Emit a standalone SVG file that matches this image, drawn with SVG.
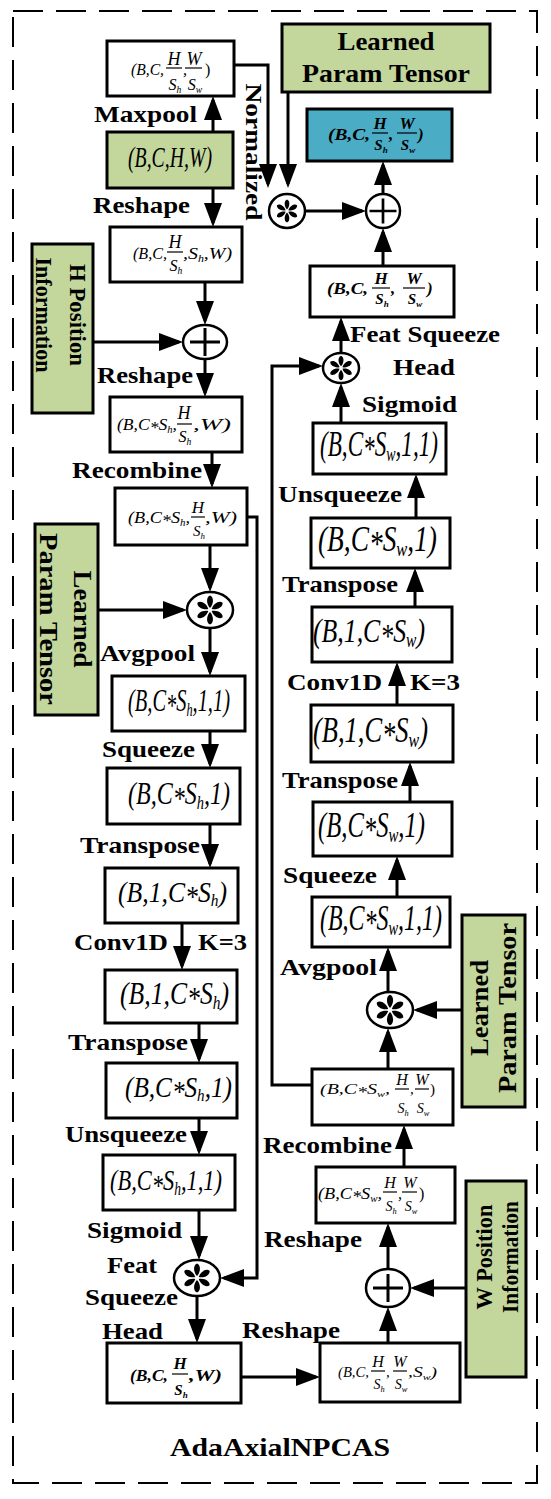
<svg xmlns="http://www.w3.org/2000/svg" width="551" height="1499" viewBox="0 0 551 1499">
<style>
.bx{fill:#fff;stroke:#000;stroke-width:3}
.gr{fill:#C3D69B;stroke:#000;stroke-width:3}
.bl{fill:#4BACC6;stroke:#000;stroke-width:3}
.op{fill:#fff;stroke:#000;stroke-width:2.5}
.c{fill:none;stroke:#000;stroke-width:3}
.fl{stroke:#000;stroke-width:1.2}
.t{font-family:"Liberation Serif","Times New Roman",serif;fill:#000}
.l{font-weight:bold;font-size:23px}
.g{font-weight:bold;font-size:26px}
.i{font-style:italic}
.bi{font-style:italic;font-weight:bold}
.sb{font-size:60%}
</style>
<defs>
<marker id="ah" viewBox="0 0 24 18" refX="20" refY="9" markerWidth="24" markerHeight="18" markerUnits="userSpaceOnUse" orient="auto"><path d="M0,0 L24,9 L0,18 Z" fill="#000"/></marker>
<g id="st"><path id="pt" d="M0,-2 C-3.8,-6 -4,-13 0,-14.5 C4,-13 3.8,-6 0,-2 Z" fill="#000"/><use href="#pt" transform="rotate(60)"/><use href="#pt" transform="rotate(120)"/><use href="#pt" transform="rotate(180)"/><use href="#pt" transform="rotate(240)"/><use href="#pt" transform="rotate(300)"/></g>
<path id="pl" d="M-15,0 H15 M0,-14 V14" stroke="#000" stroke-width="3" fill="none"/>
</defs>
<rect width="551" height="1499" fill="#fff"/>
<rect x="13" y="11" width="524" height="1472" fill="none" stroke="#000" stroke-width="2" stroke-dasharray="30 13"/>

<g id="connectors" class="c" marker-end="url(#ah)">
<path d="M213,132 V100"/>
<path d="M213,188 V223"/>
<path d="M234,65 H268 V184"/>
<path d="M288,92 V184"/>
<path d="M305,211 H362"/>
<path d="M383,266 V232"/>
<path d="M383,194 V165"/>
<path d="M205,282 V321"/>
<path d="M93,342 H179"/>
<path d="M205,359 V393"/>
<path d="M212,452 V484"/>
<path d="M247,517 H257 V1278 H224"/>
<path d="M210,545 V588"/>
<path d="M98,610 H183"/>
<path d="M210,628 V672"/>
<path d="M210,731 V764"/>
<path d="M210,824 V864"/>
<path d="M182,923 V966"/>
<path d="M199,1023 V1059"/>
<path d="M199,1118 V1151"/>
<path d="M199,1210 V1256"/>
<path d="M197,1296 V1339"/>
<path d="M241,1377 H316"/>
<path d="M388,1343 V1311"/>
<path d="M466,1288 H414"/>
<path d="M388,1269 V1227"/>
<path d="M404,1167 V1129"/>
<path d="M312,1085 H272 V366 H319"/>
<path d="M388,1069 V1032"/>
<path d="M462,1010 H417"/>
<path d="M388,992 V951"/>
<path d="M397,897 V860"/>
<path d="M410,802 V766"/>
<path d="M397,705 V666"/>
<path d="M415,607 V572"/>
<path d="M416,518 V478"/>
<path d="M341,423 V387"/>
<path d="M341,353 V321"/>
</g>

<g id="op-star-top"><ellipse class="op" cx="287" cy="211" rx="18" ry="17"/><use href="#st" transform="translate(287,211) scale(0.8)"/></g>
<g id="op-plus-top"><ellipse class="op" cx="383" cy="211" rx="17" ry="17"/><use href="#pl" transform="translate(383,211) scale(0.9)"/></g>
<g id="op-plus-h"><ellipse class="op" cx="205" cy="342" rx="22" ry="17"/><use href="#pl" transform="translate(205,342)"/></g>
<g id="op-star-h"><ellipse class="op" cx="210" cy="610" rx="23" ry="18"/><use href="#st" transform="translate(210,610)"/></g>
<g id="op-star-hb"><ellipse class="op" cx="197" cy="1278" rx="23" ry="18"/><use href="#st" transform="translate(197,1278)"/></g>
<g id="op-plus-w"><ellipse class="op" cx="388" cy="1288" rx="22" ry="19"/><use href="#pl" transform="translate(388,1288)"/></g>
<g id="op-star-w"><ellipse class="op" cx="390" cy="1010" rx="23" ry="18"/><use href="#st" transform="translate(390,1010) scale(1.05)"/></g>
<g id="op-star-wt"><ellipse class="op" cx="341" cy="368" rx="18" ry="15"/><use href="#st" transform="translate(341,368) scale(0.85)"/></g>

<g id="n1"><rect class="bx" x="107" y="41" width="127" height="55"/>
<text class="t i" font-size="16" x="131" y="75" textLength="33" lengthAdjust="spacingAndGlyphs">(B,C,</text>
<text class="t i" font-size="18" x="174" y="65" text-anchor="middle">H</text>
<line class="fl" x1="166" y1="68" x2="182" y2="68"/>
<text class="t i" font-size="16" x="175" y="90" text-anchor="middle">S<tspan class="sb" dy="3">h</tspan></text>
<text class="t i" font-size="16" x="183" y="75">,</text>
<text class="t i" font-size="18" x="194" y="65" text-anchor="middle">W</text>
<line class="fl" x1="185" y1="68" x2="202" y2="68"/>
<text class="t i" font-size="16" x="195" y="90" text-anchor="middle">S<tspan class="sb" dy="3">w</tspan></text>
<text class="t" font-size="16" x="205" y="75">)</text></g>

<g id="n2"><rect class="gr" x="107" y="132" width="126" height="56"/>
<text class="t i" font-size="20" textLength="84" lengthAdjust="spacingAndGlyphs" transform="translate(128,167) scale(1,1.5)">(B,C,H,W)</text></g>

<g id="n3"><rect class="bx" x="110" y="227" width="132" height="55"/>
<text class="t i" font-size="16" x="133" y="259" textLength="34" lengthAdjust="spacingAndGlyphs">(B,C,</text>
<text class="t i" font-size="18" x="175" y="248" text-anchor="middle">H</text>
<line class="fl" x1="167" y1="252" x2="183" y2="252"/>
<text class="t i" font-size="16" x="176" y="271" text-anchor="middle">S<tspan class="sb" dy="3">h</tspan></text>
<text class="t i" font-size="16" x="183" y="259" textLength="49" lengthAdjust="spacingAndGlyphs">,S<tspan class="sb" dy="3">h</tspan><tspan dy="-3">,W)</tspan></text></g>

<g id="n4"><rect class="gr" x="32" y="244" width="61" height="169"/>
<g transform="translate(62,315) rotate(90)"><text class="t l" font-size="24" x="0" y="-8" text-anchor="middle" textLength="102" lengthAdjust="spacingAndGlyphs">H Position</text><text class="t l" font-size="24" x="0" y="26" text-anchor="middle" textLength="115" lengthAdjust="spacingAndGlyphs">Information</text></g></g>

<g id="n6"><rect class="bx" x="110" y="397" width="132" height="55"/>
<text class="t i" font-size="17" x="117" y="430" textLength="60" lengthAdjust="spacingAndGlyphs">(B,C<tspan dy="3">*</tspan><tspan dy="-3">S</tspan><tspan class="sb" dy="3">h</tspan><tspan dy="-3">,</tspan></text>
<text class="t i" font-size="18" x="184" y="419" text-anchor="middle">H</text>
<line class="fl" x1="177" y1="424" x2="192" y2="424"/>
<text class="t i" font-size="16" x="185" y="442" text-anchor="middle">S<tspan class="sb" dy="3">h</tspan></text>
<text class="t i" font-size="17" x="193" y="430" textLength="38" lengthAdjust="spacingAndGlyphs">,W)</text></g>

<g id="n7"><rect class="bx" x="115" y="488" width="132" height="57"/>
<text class="t i" font-size="16" x="128" y="523" textLength="62" lengthAdjust="spacingAndGlyphs">(B,C<tspan dy="3">*</tspan><tspan dy="-3">S</tspan><tspan class="sb" dy="3">h</tspan><tspan dy="-3">,</tspan></text>
<text class="t i" font-size="17" x="198" y="513" text-anchor="middle">H</text>
<line class="fl" x1="191" y1="517" x2="205" y2="517"/>
<text class="t i" font-size="15" x="199" y="536" text-anchor="middle">S<tspan class="sb" dy="3">h</tspan></text>
<text class="t i" font-size="16" x="205" y="523" textLength="32" lengthAdjust="spacingAndGlyphs">,W)</text></g>

<g id="n8"><rect class="gr" x="35" y="524" width="63" height="191"/>
<g transform="translate(66,619) rotate(90)"><text class="t g" x="0" y="-8" text-anchor="middle" textLength="97" lengthAdjust="spacingAndGlyphs">Learned</text><text class="t g" x="0" y="26" text-anchor="middle" textLength="172" lengthAdjust="spacingAndGlyphs">Param Tensor</text></g></g>

<g id="n10"><rect class="bx" x="112" y="676" width="133" height="55"/>
<text class="t i" font-size="20" textLength="102" lengthAdjust="spacingAndGlyphs" transform="translate(128,711) scale(1,1.55)">(B,C<tspan dy="3">*</tspan><tspan dy="-3">S</tspan><tspan class="sb" dy="3">h</tspan><tspan dy="-3">,1,1)</tspan></text></g>
<g id="n11"><rect class="bx" x="107" y="768" width="133" height="56"/>
<text class="t i" font-size="20" textLength="102" lengthAdjust="spacingAndGlyphs" transform="translate(128,804) scale(1,1.6)">(B,C<tspan dy="3">*</tspan><tspan dy="-3">S</tspan><tspan class="sb" dy="3">h</tspan><tspan dy="-3">,1)</tspan></text></g>
<g id="n12"><rect class="bx" x="105" y="868" width="133" height="55"/>
<text class="t i" font-size="20" textLength="109" lengthAdjust="spacingAndGlyphs" transform="translate(118,902) scale(1,1.45)">(B,1,C<tspan dy="3">*</tspan><tspan dy="-3">S</tspan><tspan class="sb" dy="3">h</tspan><tspan dy="-3">)</tspan></text></g>
<g id="n13"><rect class="bx" x="105" y="970" width="132" height="53"/>
<text class="t i" font-size="20" textLength="109" lengthAdjust="spacingAndGlyphs" transform="translate(120,1004) scale(1,1.6)">(B,1,C<tspan dy="3">*</tspan><tspan dy="-3">S</tspan><tspan class="sb" dy="3">h</tspan><tspan dy="-3">)</tspan></text></g>
<g id="n14"><rect class="bx" x="106" y="1063" width="131" height="55"/>
<text class="t i" font-size="20" textLength="107" lengthAdjust="spacingAndGlyphs" transform="translate(125,1097) scale(1,1.45)">(B,C<tspan dy="3">*</tspan><tspan dy="-3">S</tspan><tspan class="sb" dy="3">h</tspan><tspan dy="-3">,1)</tspan></text></g>
<g id="n15"><rect class="bx" x="103" y="1155" width="132" height="55"/>
<text class="t i" font-size="20" textLength="112" lengthAdjust="spacingAndGlyphs" transform="translate(110,1190) scale(1,1.5)">(B,C<tspan dy="3">*</tspan><tspan dy="-3">S</tspan><tspan class="sb" dy="3">h</tspan><tspan dy="-3">,1,1)</tspan></text></g>

<g id="n17"><rect class="bx" x="107" y="1343" width="134" height="60"/>
<text class="t bi" font-size="16" x="130" y="1381" textLength="38" lengthAdjust="spacingAndGlyphs">(B,C,</text>
<text class="t bi" font-size="17" x="180" y="1369" text-anchor="middle">H</text>
<line class="fl" x1="172" y1="1374" x2="188" y2="1374"/>
<text class="t bi" font-size="15" x="181" y="1395" text-anchor="middle">S<tspan class="sb" dy="3">h</tspan></text>
<text class="t bi" font-size="16" x="189" y="1381" textLength="33" lengthAdjust="spacingAndGlyphs">,W)</text></g>

<g id="n18"><rect class="bx" x="320" y="1343" width="140" height="59"/>
<text class="t i" font-size="15" x="338" y="1377" textLength="31" lengthAdjust="spacingAndGlyphs">(B,C,</text>
<text class="t i" font-size="16" x="378" y="1367" text-anchor="middle">H</text>
<line class="fl" x1="371" y1="1371" x2="385" y2="1371"/>
<text class="t i" font-size="14" x="379" y="1389" text-anchor="middle">S<tspan class="sb" dy="3">h</tspan></text>
<text class="t i" font-size="15" x="386" y="1377">,</text>
<text class="t i" font-size="16" x="400" y="1367" text-anchor="middle">W</text>
<line class="fl" x1="393" y1="1371" x2="407" y2="1371"/>
<text class="t i" font-size="14" x="401" y="1389" text-anchor="middle">S<tspan class="sb" dy="3">w</tspan></text>
<text class="t i" font-size="15" x="408" y="1377" textLength="29" lengthAdjust="spacingAndGlyphs">,S<tspan class="sb" dy="3">w</tspan><tspan dy="-3">)</tspan></text></g>

<g id="n20"><rect class="gr" x="466" y="1181" width="60" height="196"/>
<g transform="translate(496,1257) rotate(-90)"><text class="t l" font-size="27" x="0" y="-4" text-anchor="middle" textLength="105" lengthAdjust="spacingAndGlyphs">W Position</text><text class="t l" font-size="24" x="0" y="22" text-anchor="middle" textLength="112" lengthAdjust="spacingAndGlyphs">Information</text></g></g>

<g id="n21"><rect class="bx" x="316" y="1167" width="139" height="56"/>
<text class="t i" font-size="16" x="318" y="1199" textLength="64" lengthAdjust="spacingAndGlyphs">(B,C<tspan dy="3">*</tspan><tspan dy="-3">S</tspan><tspan class="sb" dy="3">w</tspan><tspan dy="-3">,</tspan></text>
<text class="t i" font-size="16" x="390" y="1188" text-anchor="middle">H</text>
<line class="fl" x1="383" y1="1192" x2="397" y2="1192"/>
<text class="t i" font-size="14" x="391" y="1211" text-anchor="middle">S<tspan class="sb" dy="3">h</tspan></text>
<text class="t i" font-size="16" x="398" y="1199">,</text>
<text class="t i" font-size="16" x="410" y="1188" text-anchor="middle">W</text>
<line class="fl" x1="402" y1="1192" x2="417" y2="1192"/>
<text class="t i" font-size="14" x="411" y="1211" text-anchor="middle">S<tspan class="sb" dy="3">w</tspan></text>
<text class="t" font-size="16" x="419" y="1199">)</text></g>

<g id="n22"><rect class="bx" x="312" y="1069" width="141" height="56"/>
<text class="t i" font-size="15" x="320" y="1094" textLength="70" lengthAdjust="spacingAndGlyphs">(B,C<tspan dy="3">*</tspan><tspan dy="-3">S</tspan><tspan class="sb" dy="3">w</tspan><tspan dy="-3">,</tspan></text>
<text class="t i" font-size="16" x="402" y="1085" text-anchor="middle">H</text>
<line class="fl" x1="395" y1="1089" x2="409" y2="1089"/>
<text class="t i" font-size="14" x="403" y="1113" text-anchor="middle">S<tspan class="sb" dy="3">h</tspan></text>
<text class="t i" font-size="15" x="410" y="1094">,</text>
<text class="t i" font-size="16" x="422" y="1085" text-anchor="middle">W</text>
<line class="fl" x1="415" y1="1089" x2="429" y2="1089"/>
<text class="t i" font-size="14" x="423" y="1113" text-anchor="middle">S<tspan class="sb" dy="3">w</tspan></text>
<text class="t" font-size="15" x="430" y="1094">)</text></g>

<g id="n24"><rect class="gr" x="462" y="915" width="63" height="192"/>
<g transform="translate(493,1008) rotate(-90)"><text class="t g" x="0" y="-5" text-anchor="middle" textLength="96" lengthAdjust="spacingAndGlyphs">Learned</text><text class="t g" x="0" y="23" text-anchor="middle" textLength="170" lengthAdjust="spacingAndGlyphs">Param Tensor</text></g></g>

<g id="n25"><rect class="bx" x="312" y="897" width="138" height="50"/>
<text class="t i" font-size="20" textLength="122" lengthAdjust="spacingAndGlyphs" transform="translate(320,930) scale(1,1.8)">(B,C<tspan dy="3">*</tspan><tspan dy="-3">S</tspan><tspan class="sb" dy="3">w</tspan><tspan dy="-3">,1,1)</tspan></text></g>
<g id="n26"><rect class="bx" x="313" y="802" width="139" height="54"/>
<text class="t i" font-size="20" textLength="107" lengthAdjust="spacingAndGlyphs" transform="translate(318,837) scale(1,1.8)">(B,C<tspan dy="3">*</tspan><tspan dy="-3">S</tspan><tspan class="sb" dy="3">w</tspan><tspan dy="-3">,1)</tspan></text></g>
<g id="n27"><rect class="bx" x="311" y="705" width="142" height="57"/>
<text class="t i" font-size="20" textLength="115" lengthAdjust="spacingAndGlyphs" transform="translate(313,742) scale(1,1.8)">(B,1,C<tspan dy="3">*</tspan><tspan dy="-3">S</tspan><tspan class="sb" dy="3">w</tspan><tspan dy="-3">)</tspan></text></g>
<g id="n28"><rect class="bx" x="312" y="607" width="140" height="55"/>
<text class="t i" font-size="20" textLength="112" lengthAdjust="spacingAndGlyphs" transform="translate(313,642) scale(1,1.7)">(B,1,C<tspan dy="3">*</tspan><tspan dy="-3">S</tspan><tspan class="sb" dy="3">w</tspan><tspan dy="-3">)</tspan></text></g>
<g id="n29"><rect class="bx" x="311" y="518" width="139" height="50"/>
<text class="t i" font-size="20" textLength="119" lengthAdjust="spacingAndGlyphs" transform="translate(318,551) scale(1,1.8)">(B,C<tspan dy="3">*</tspan><tspan dy="-3">S</tspan><tspan class="sb" dy="3">w</tspan><tspan dy="-3">,1)</tspan></text></g>
<g id="n30"><rect class="bx" x="313" y="423" width="133" height="51"/>
<text class="t i" font-size="20" textLength="118" lengthAdjust="spacingAndGlyphs" transform="translate(320,456) scale(1,1.8)">(B,C<tspan dy="3">*</tspan><tspan dy="-3">S</tspan><tspan class="sb" dy="3">w</tspan><tspan dy="-3">,1,1)</tspan></text></g>

<g id="n32"><rect class="bx" x="310" y="266" width="144" height="51"/>
<text class="t bi" font-size="17" x="327" y="294" textLength="41" lengthAdjust="spacingAndGlyphs">(B,C,</text>
<text class="t bi" font-size="17" x="381" y="284" text-anchor="middle">H</text>
<line class="fl" x1="372" y1="288" x2="390" y2="288"/>
<text class="t bi" font-size="15" x="382" y="304" text-anchor="middle">S<tspan class="sb" dy="3">h</tspan></text>
<text class="t bi" font-size="17" x="391" y="294">,</text>
<text class="t bi" font-size="17" x="414" y="284" text-anchor="middle">W</text>
<line class="fl" x1="403" y1="288" x2="425" y2="288"/>
<text class="t bi" font-size="15" x="415" y="304" text-anchor="middle">S<tspan class="sb" dy="3">w</tspan></text>
<text class="t bi" font-size="17" x="427" y="294">)</text></g>

<g id="n34"><rect class="bl" x="307" y="109" width="145" height="52"/>
<text class="t bi" font-size="17" x="328" y="140" textLength="42" lengthAdjust="spacingAndGlyphs">(B,C,</text>
<text class="t bi" font-size="17" x="380" y="129" text-anchor="middle">H</text>
<line class="fl" x1="372" y1="133" x2="388" y2="133"/>
<text class="t bi" font-size="15" x="381" y="150" text-anchor="middle">S<tspan class="sb" dy="3">h</tspan></text>
<text class="t bi" font-size="17" x="389" y="140">,</text>
<text class="t bi" font-size="17" x="407" y="129" text-anchor="middle">W</text>
<line class="fl" x1="397" y1="133" x2="417" y2="133"/>
<text class="t bi" font-size="15" x="408" y="150" text-anchor="middle">S<tspan class="sb" dy="3">w</tspan></text>
<text class="t bi" font-size="17" x="418" y="140">)</text></g>

<g id="n35"><rect class="gr" x="282" y="24" width="208" height="68"/>
<text class="t g" x="386" y="50" text-anchor="middle" textLength="97" lengthAdjust="spacingAndGlyphs">Learned</text>
<text class="t g" x="386" y="82" text-anchor="middle" textLength="168" lengthAdjust="spacingAndGlyphs">Param Tensor</text></g>

<g id="labels" class="t l">
<text x="94" y="122" textLength="103" lengthAdjust="spacingAndGlyphs">Maxpool</text>
<text x="93" y="213" textLength="97" lengthAdjust="spacingAndGlyphs">Reshape</text>
<text transform="translate(252,152) rotate(90)" x="0" y="6" text-anchor="middle" textLength="137" lengthAdjust="spacingAndGlyphs">Normalized</text>
<text x="97" y="383" textLength="96" lengthAdjust="spacingAndGlyphs">Reshape</text>
<text x="72" y="478" textLength="130" lengthAdjust="spacingAndGlyphs">Recombine</text>
<text x="100" y="661" textLength="95" lengthAdjust="spacingAndGlyphs">Avgpool</text>
<text x="102" y="757" textLength="93" lengthAdjust="spacingAndGlyphs">Squeeze</text>
<text x="80" y="853" textLength="120" lengthAdjust="spacingAndGlyphs">Transpose</text>
<text x="74" y="950" textLength="94" lengthAdjust="spacingAndGlyphs">Conv1D</text>
<text x="198" y="950" textLength="49" lengthAdjust="spacingAndGlyphs">K=3</text>
<text x="68" y="1050" textLength="120" lengthAdjust="spacingAndGlyphs">Transpose</text>
<text x="65" y="1142" textLength="122" lengthAdjust="spacingAndGlyphs">Unsqueeze</text>
<text x="87" y="1238" textLength="95" lengthAdjust="spacingAndGlyphs">Sigmoid</text>
<text x="107" y="1273" textLength="50" lengthAdjust="spacingAndGlyphs">Feat</text>
<text x="85" y="1305" textLength="93" lengthAdjust="spacingAndGlyphs">Squeeze</text>
<text x="102" y="1339" textLength="61" lengthAdjust="spacingAndGlyphs">Head</text>
<text x="242" y="1338" textLength="98" lengthAdjust="spacingAndGlyphs">Reshape</text>
<text x="264" y="1247" textLength="98" lengthAdjust="spacingAndGlyphs">Reshape</text>
<text x="263" y="1153" textLength="129" lengthAdjust="spacingAndGlyphs">Recombine</text>
<text x="280" y="975" textLength="97" lengthAdjust="spacingAndGlyphs">Avgpool</text>
<text x="283" y="883" textLength="94" lengthAdjust="spacingAndGlyphs">Squeeze</text>
<text x="282" y="788" textLength="116" lengthAdjust="spacingAndGlyphs">Transpose</text>
<text x="287" y="690" textLength="95" lengthAdjust="spacingAndGlyphs">Conv1D</text>
<text x="410" y="690" textLength="50" lengthAdjust="spacingAndGlyphs">K=3</text>
<text x="282" y="592" textLength="116" lengthAdjust="spacingAndGlyphs">Transpose</text>
<text x="278" y="502" textLength="124" lengthAdjust="spacingAndGlyphs">Unsqueeze</text>
<text x="362" y="412" textLength="95" lengthAdjust="spacingAndGlyphs">Sigmoid</text>
<text x="350" y="342" textLength="150" lengthAdjust="spacingAndGlyphs">Feat Squeeze</text>
<text x="393" y="375" textLength="62" lengthAdjust="spacingAndGlyphs">Head</text>
<text x="170" y="1456" font-size="25" textLength="220" lengthAdjust="spacingAndGlyphs">AdaAxialNPCAS</text>
</g>
</svg>
